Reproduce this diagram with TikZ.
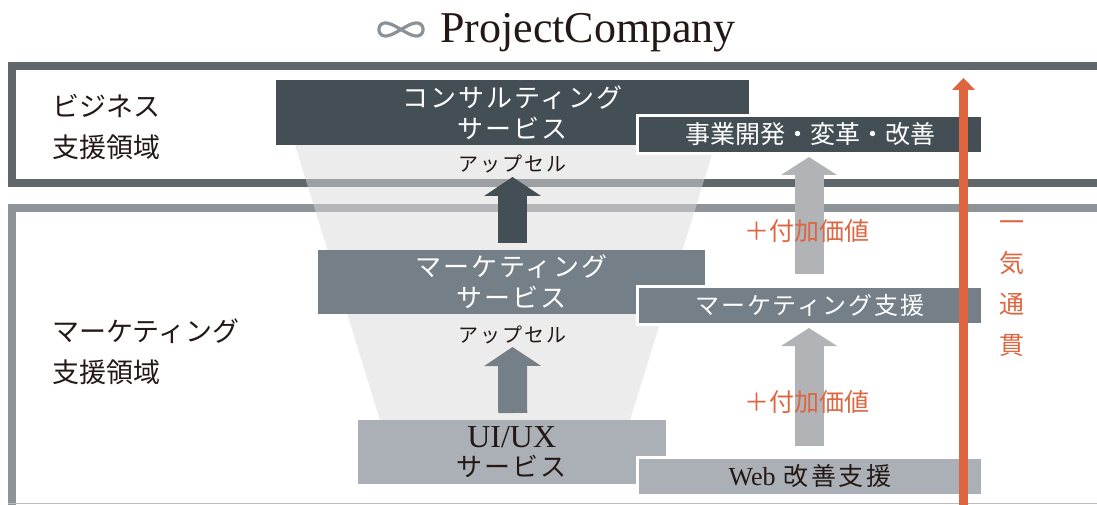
\documentclass[tikz,border=0pt]{standalone}
\usepackage{fontspec}
\setmainfont{Liberation Serif}
\newfontfamily\jp{Noto Sans CJK JP}
\newfontfamily\jpls{Noto Sans CJK JP}[LetterSpace=8]
\newfontfamily\jpla{Noto Sans CJK JP}[LetterSpace=10]
\usetikzlibrary{arrows.meta,calc}
\definecolor{cdark}{RGB}{67,78,85}
\definecolor{cmid}{RGB}{117,127,135}
\definecolor{clight}{RGB}{170,176,181}
\definecolor{carrow}{RGB}{177,179,182}
\definecolor{ftop}{RGB}{95,103,107}
\definecolor{fbot}{RGB}{142,147,153}
\definecolor{fline}{RGB}{185,188,192}
\definecolor{corange}{RGB}{221,102,64}
\definecolor{cinf}{RGB}{139,146,151}
\definecolor{ctext}{RGB}{35,24,21}
\definecolor{cfunnel}{RGB}{218,218,218}
\begin{document}
\begin{tikzpicture}[x=1pt,y=-1pt,
  lbox/.style={rectangle, inner sep=0pt, outer sep=0pt, align=center},
  rbox/.style={rectangle, inner sep=0pt, outer sep=0pt, draw=white, line width=3pt,
    minimum width=345pt, minimum height=38pt, align=center},
  funnelup/.style={line width=29pt, -{Triangle[width=57pt,length=19pt,line width=0pt]}},
  valueup/.style={carrow, line width=29pt, -{Triangle[width=56pt,length=18pt,line width=0pt]}},
  throughup/.style={corange, line width=9pt, -{Triangle[width=23pt,length=12pt,line width=0pt]}},
  boxtext/.style={font=\jpls\fontsize{26}{31}\selectfont},
  upsell/.style={text=ctext, inner sep=0pt, font=\jpla\fontsize{20}{24}\selectfont},
  valuetext/.style={text=corange, inner sep=0pt, font=\jp\fontsize{25}{30}\selectfont},
  areatext/.style={anchor=west, align=left, inner sep=0pt, text=ctext, font=\jp\fontsize{27}{41}\selectfont}
]
\useasboundingbox (0,0) rectangle (1097,505);
% frames
\draw[ftop, line width=8pt] (1105,66) -- (12,66) -- (12,183) -- (1105,183);
\draw[fbot, line width=8pt] (1105,208) -- (12,208) -- (12,515);
\draw[fline, line width=1.5pt] (8,503.5) -- (1105,503.5);
% funnel
\fill[cfunnel, opacity=0.5] (293.5,140) -- (716.5,140) -- (627,430) -- (383,430) -- cycle;
% left boxes
\node[lbox, boxtext, fill=cdark, text=white, minimum width=473pt, minimum height=65pt] (cons) at (512.5,112.5) {コンサルティング\\サービス};
\node[lbox, boxtext, fill=cmid, text=white, minimum width=387pt, minimum height=64pt] (mkts) at (511.5,282) {マーケティング\\サービス};
\node[lbox, font=\jpls\fontsize{26}{29}\selectfont, fill=clight, text=ctext, minimum width=307.5pt, minimum height=64pt] (uiux) at (511.75,452) {{\rmfamily\fontsize{32}{29}\selectfont UI/UX}\\サービス};
% right boxes
\node[rbox, fill=cdark, text=white, font=\jp\fontsize{25}{30}\selectfont] (biz) at (810,134.5) {事業開発・変革・改善};
\node[rbox, fill=cmid, text=white, font=\jpls\fontsize{24}{30}\selectfont] (mktsup) at (810,305.5) {マーケティング支援};
\node[rbox, fill=clight, text=ctext, font=\jpla\fontsize{25}{30}\selectfont] (web) at (810,476.5) {{\rmfamily\fontsize{26}{30}\selectfont Web} 改善支援};
% funnel arrows
\draw[funnelup, cdark] ($(mkts.north)+(1,-7)$) -- ($(cons.south)+(0,32)$);
\draw[funnelup, cmid] ($(uiux.north)+(1,-7)$) -- ($(mkts.south)+(1,33)$);
% value arrows
\draw[valueup] ($(mktsup.north)+(-1,-12.5)$) -- ($(biz.south)+(-1,3.5)$);
\draw[valueup] ($(web.north)+(-1,-11.5)$) -- ($(mktsup.south)+(-1,3.5)$);
% labels
\node[upsell] (up1) at (512.5,164) {アップセル};
\node[upsell] (up2) at (512.5,335) {アップセル};
\node[valuetext] (va1) at (806.5,231) {＋付加価値};
\node[valuetext] (va2) at (806.5,402) {＋付加価値};
\node[areatext] (bizarea) at (52,126.5) {ビジネス\\支援領域};
\node[areatext] (mktarea) at (52,352) {マーケティング\\支援領域};
% through arrow
\coordinate (obot) at (963.5,515);
\coordinate (otop) at (963.5,78);
\draw[throughup] (obot) -- (otop);
\node[text=corange, align=center, inner sep=0pt, font=\jp\fontsize{25}{41}\selectfont] (ikki) at (1012,288.5) {一\\気\\通\\貫};
% title
\draw[cinf, line width=3.2pt, line join=round]
  plot[domain=0:360, samples=145, smooth] ({401+22*cos(\x)}, {29.5+13*sin(\x)*cos(\x)});
\node[anchor=base west, inner sep=0pt, text=ctext, font=\fontsize{44}{44}\selectfont] (brand) at (440,43) {ProjectCompany};
\end{tikzpicture}
\end{document}
